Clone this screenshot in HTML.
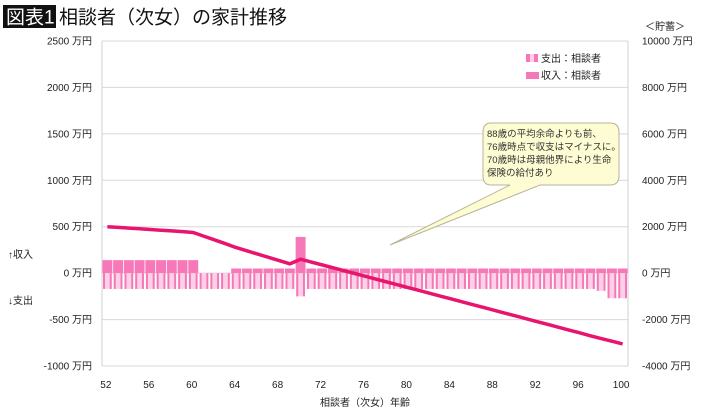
<!DOCTYPE html>
<html><head><meta charset="utf-8">
<style>
body{margin:0;background:#fff;width:710px;height:414px;overflow:hidden;font-family:"Liberation Sans","Noto Sans CJK JP",sans-serif;}
svg text{font-family:"Liberation Sans","Noto Sans CJK JP",sans-serif;}
</style></head>
<body>
<svg id="c" width="710" height="414">
<rect x="3" y="5" width="53" height="23" fill="#111"/>
<text x="6" y="23.5" font-size="19" fill="#fff">図表1</text>
<text x="59" y="23.5" font-size="19" fill="#111">相談者（次女）の家計推移</text>
<text x="645" y="30" font-size="10" fill="#222">＜貯蓄＞</text>
<text x="8" y="258" font-size="10" fill="#222">↑収入</text>
<text x="8" y="304" font-size="10" fill="#222">↓支出</text>
<text x="365" y="406" font-size="10" fill="#222" text-anchor="middle">相談者（次女）年齢</text>
<g id="grid"></g><g id="bars"></g><g id="line"></g><g id="axes"></g>
<g>
<rect x="526" y="54" width="4" height="8" fill="#f778b8"/><rect x="534" y="54" width="4" height="8" fill="#f778b8"/><rect x="530" y="54" width="4" height="8" fill="#fcd0e6"/>
<text x="541" y="62" font-size="10" fill="#222">支出：相談者</text>
<rect x="526" y="72" width="13" height="7" fill="#f778b8"/>
<text x="541" y="79" font-size="10" fill="#222">収入：相談者</text>
</g>
<g>
<path d="M491,123 H610 Q619,123 619,132 V176 Q619,185 610,185 H540 L390,245 L510,185 H491 Q483,185 483,176 V132 Q483,123 491,123 Z" fill="#fdfcd2" stroke="#b8b49a" stroke-width="1"/>
<text font-size="9.5" fill="#333">
<tspan x="487" y="137">88歳の平均余命よりも前、</tspan>
<tspan x="487" y="150">76歳時点で収支はマイナスに。</tspan>
<tspan x="487" y="163">70歳時は母親他界により生命</tspan>
<tspan x="487" y="176">保険の給付あり</tspan></text>
</g>
</svg>
<script>
const ages=[];for(let a=52;a<=100;a++)ages.push(a);
const income=[140,140,140,140,140,140,140,140,140,0,0,0,50,50,50,50,50,50,390,50,50,50,50,50,50,50,50,50,50,50,50,50,50,50,50,50,50,50,50,50,50,50,50,50,50,50,50,50,50];
const expense=[-170,-170,-170,-170,-170,-170,-170,-170,-170,-170,-170,-170,-170,-170,-170,-170,-170,-170,-250,-170,-170,-170,-170,-170,-170,-170,-170,-170,-170,-170,-170,-170,-170,-170,-170,-170,-170,-170,-170,-170,-170,-170,-170,-170,-170,-170,-190,-270,-270];
const savings=[2000,1970,1940,1910,1880,1850,1820,1790,1750,1590,1430,1270,1100,960,820,680,540,400,600,478,356,234,112,-10,-132,-254,-376,-498,-620,-742,-864,-986,-1108,-1230,-1352,-1474,-1596,-1718,-1840,-1962,-2084,-2206,-2328,-2450,-2572,-2700,-2820,-2930,-3050];
const leftTicks=[2500,2000,1500,1000,500,0,-500,-1000];
const rightTicks=[10000,8000,6000,4000,2000,0,-2000,-4000];
const xTicks=[52,56,60,64,68,72,76,80,84,88,92,96,100];
const X0=102,X1=628,Y0=41,Y1=366;
const yL=v=>Y0+(2500-v)*(Y1-Y0)/3500;
const yR=v=>Y0+(10000-v)*(Y1-Y0)/14000;
const step=(X1-X0)/ages.length;
const xC=a=>X0+(a-52+0.5)*step;
const NS='http://www.w3.org/2000/svg';
function mk(t,at,p){const e=document.createElementNS(NS,t);for(const k in at)e.setAttribute(k,at[k]);p.appendChild(e);return e;}
const grid=document.getElementById('grid'),bars=document.getElementById('bars'),line=document.getElementById('line'),axes=document.getElementById('axes');
leftTicks.forEach(v=>{
 const g=mk('line',{x1:X0,x2:X1,y1:yL(v),y2:yL(v),stroke:'#d8d8d8','stroke-width':1},grid);
 
 
 const t=mk('text',{x:92,y:yL(v)+3.5,'font-size':10,'text-anchor':'end',fill:'#222'},axes);t.textContent=v+' 万円';
 
 
});
rightTicks.forEach(v=>{
 const t=mk('text',{x:642,y:yR(v)+3.5,'font-size':10,fill:'#222'},axes);t.textContent=v+' 万円';
 
 
});
xTicks.forEach(a=>{
 const t=mk('text',{x:xC(a)-1.5,y:388,'font-size':10,'text-anchor':'middle',fill:'#222'},axes);t.textContent=a;
 
 
});
[X0,X1].forEach(x=>{const l=mk('line',{x1:x,x2:x,y1:Y0,y2:Y1,stroke:'#d0d0d0'},axes);
 
 });
ages.forEach((a,i)=>{
 const x=X0+i*step;
 if(income[i]>0){const r=mk('rect',{x:x+0.4,y:yL(income[i]),width:step-0.8,height:yL(0)-yL(income[i]),fill:'#f778b8'},bars);
  
  }
 const h=yL(expense[i])-yL(0);
 const r=mk('rect',{x:x+1,y:yL(0),width:step-2,height:h,fill:'#fcd0e6'},bars);
 
 
 mk('rect',{x:x+1,y:yL(0),width:2,height:h,fill:'#f778b8'},bars);
 mk('rect',{x:x+step-3,y:yL(0),width:2,height:h,fill:'#f778b8'},bars);
});
const p=mk('polyline',{points:ages.map((a,i)=>xC(a)+','+yR(savings[i])).join(' '),fill:'none',stroke:'#e8146e','stroke-width':3.5,'stroke-linejoin':'round'},line);


</script>
</body></html>
